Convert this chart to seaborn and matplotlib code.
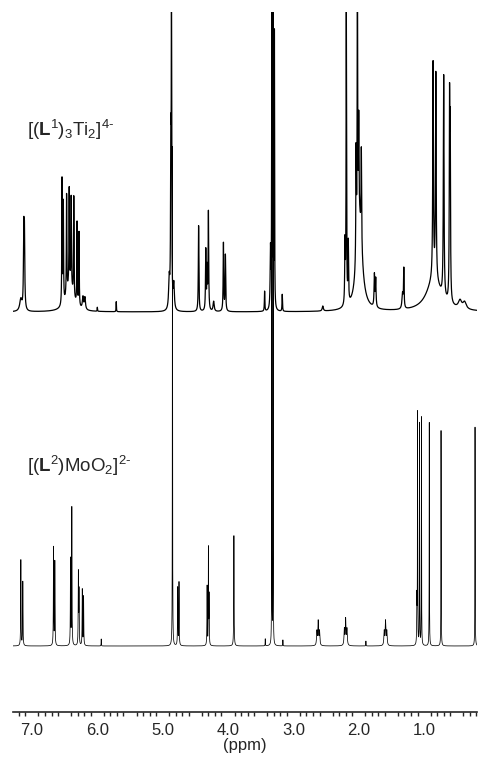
import numpy as np
import pandas as pd
import matplotlib
matplotlib.use("Agg")
import matplotlib.pyplot as plt
import seaborn as sns

# Peak lists (ppm, height in px above baseline, half width in ppm)
top_ppm = [7.17, 7.125, 7.115,
           6.54, 6.52, 6.47, 6.43, 6.40, 6.36, 6.31, 6.28, 6.42, 6.22, 6.19,
           5.71, 6.00,
           4.90, 4.875, 4.865, 4.83,
           4.45, 4.34, 4.32, 4.30, 4.22, 4.07, 4.04,
           3.44, 3.35, 3.33, 3.31, 3.29, 3.17, 2.55,
           2.21, 2.19, 2.16, 2.04, 2.02, 2.00, 1.96, 1.99,
           1.76, 1.74, 1.33, 1.31,
           0.862, 0.820, 0.70, 0.61, 0.60, 0.85, 0.45, 0.38]
top_height = [12, 74, 70,
              125, 100, 100, 95, 88, 100, 82, 74, 28, 12, 12,
              10, 4,
              30, 150, 300, 25,
              86, 60, 40, 98, 10, 68, 56,
              20, 60, 300, 300, 274, 17, 5,
              60, 300, 60, 110, 300, 100, 95, 90,
              32, 28, 15, 39,
              215, 205, 222, 188, 158, 32, 8, 7]
top_width = [0.02, 0.006, 0.006,
             0.004, 0.004, 0.004, 0.004, 0.004, 0.004, 0.004, 0.004, 0.06, 0.01, 0.01,
             0.003, 0.003,
             0.01, 0.005, 0.004, 0.01,
             0.005, 0.005, 0.005, 0.005, 0.01, 0.005, 0.005,
             0.004, 0.006, 0.003, 0.003, 0.003, 0.004, 0.01,
             0.005, 0.004, 0.005, 0.005, 0.004, 0.005, 0.005, 0.05,
             0.006, 0.006, 0.01, 0.005,
             0.006, 0.006, 0.006, 0.005, 0.005, 0.13, 0.03, 0.03]

bottom_ppm = [7.17, 7.14, 6.67, 6.65, 6.41, 6.39, 6.29, 6.28, 6.23, 6.21, 5.94,
              4.85, 4.77, 4.75, 4.32, 4.30, 4.29, 3.91,
              3.43, 3.33, 3.31, 3.16,
              2.64, 2.62, 2.60, 2.22, 2.20, 2.18, 1.89, 1.61, 1.59, 1.57,
              1.11, 1.10, 1.07, 1.04, 0.92, 0.74, 0.22]
bottom_height = [86, 64, 98, 84, 86, 138, 72, 53, 56, 49, 7,
                 500, 58, 63, 60, 95, 50, 111,
                 7, 900, 900, 6,
                 14, 24, 14, 16, 26, 16, 5, 14, 24, 14,
                 46, 232, 224, 228, 226, 219, 219]
bottom_width = [0.003, 0.003, 0.003, 0.003, 0.003, 0.003, 0.003, 0.003, 0.003, 0.003, 0.002,
                0.002, 0.003, 0.003, 0.003, 0.002, 0.003, 0.003,
                0.002, 0.0012, 0.0012, 0.002,
                0.006, 0.006, 0.006, 0.006, 0.006, 0.006, 0.002, 0.006, 0.006, 0.006,
                0.003, 0.002, 0.002, 0.002, 0.002, 0.002, 0.002]

top_label = r'$[(\mathbf{L}^{1})_{3}\mathrm{Ti}_{2}]^{\text{4-}}$'
bottom_label = r'$[(\mathbf{L}^{2})\mathrm{MoO}_{2}]^{\text{2-}}$'
tick_values = [7.0, 6.0, 5.0, 4.0, 3.0, 2.0, 1.0]
top_offset = 334


def spectrum(ppm_axis, centers, heights, widths):
    y = np.zeros_like(ppm_axis)
    for c, h, w in zip(centers, heights, widths):
        y += h * w ** 2 / ((ppm_axis - c) ** 2 + w ** 2)
    return y


ppm = np.linspace(7.32, 0.17, 12000)
df = pd.DataFrame({
    'ppm': ppm,
    'top': spectrum(ppm, top_ppm, top_height, top_width) + top_offset,
    'bottom': spectrum(ppm, bottom_ppm, bottom_height, bottom_width),
})

sns.set_style("white")
plt.rcParams['mathtext.fontset'] = 'custom'
plt.rcParams['mathtext.rm'] = 'Liberation Sans'
plt.rcParams['mathtext.bf'] = 'Liberation Sans:bold'
plt.rcParams['mathtext.it'] = 'Liberation Sans:italic'
plt.rcParams['font.family'] = ['Liberation Sans', 'DejaVu Sans']

fig = plt.figure(figsize=(4.78, 7.59), dpi=100)
ax = fig.add_axes([13 / 478, 47 / 759, 464 / 478, 700 / 759])

sns.lineplot(data=df, x='ppm', y='top', ax=ax, color='black', lw=0.9, sort=False, estimator=None)
sns.lineplot(data=df, x='ppm', y='bottom', ax=ax, color='black', lw=0.55, sort=False, estimator=None)

ax.set_xlim(7.29, 0.19)
ax.set_ylim(-66, 634)
for s in ['left', 'right', 'top']:
    ax.spines[s].set_visible(False)
ax.spines['bottom'].set_linewidth(1.2)
ax.set_yticks([])
ax.set_ylabel('')

major = np.arange(0.5, 7.01, 0.5)
ax.set_xticks(major)
ax.set_xticklabels(['%.1f' % v if v in tick_values else '' for v in major])
ax.set_xticks(np.arange(0.2, 7.29, 0.1), minor=True)
ax.tick_params(axis='x', which='major', direction='out', length=5, width=1, labelsize=12, pad=3)
ax.tick_params(axis='x', which='minor', direction='out', length=3, width=1, bottom=True)
ax.set_xlabel('(ppm)', fontsize=12, labelpad=0)

fig.text(27 / 478, 1 - 130 / 759, top_label, fontsize=13.5, va='center', ha='left')
fig.text(27 / 478, 1 - 466 / 759, bottom_label, fontsize=13.5, va='center', ha='left')

fig.savefig('out.png', dpi=100)
